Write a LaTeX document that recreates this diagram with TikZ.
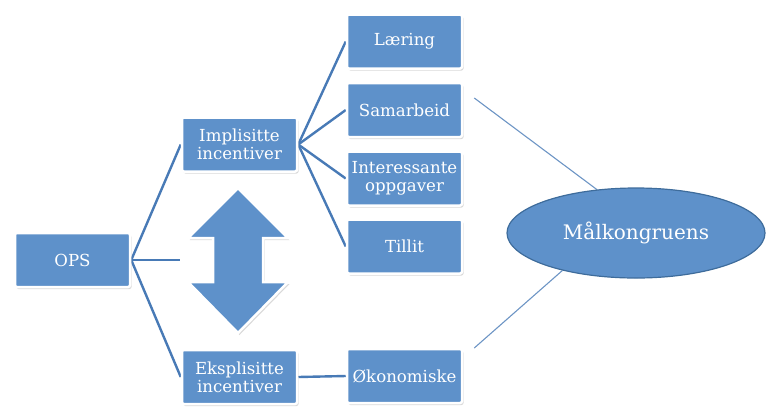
\documentclass[tikz,border=0pt]{standalone}
\usepackage{fontspec}
\setmainfont{DejaVu Serif}
\usetikzlibrary{shadows,shapes.geometric}
\definecolor{boxblue}{RGB}{94,145,202}
\definecolor{edgeblue}{RGB}{72,122,182}
\definecolor{rimblue}{RGB}{62,108,155}
\pgfdeclarelayer{background}
\pgfsetlayers{background,main}

\begin{document}
\begin{tikzpicture}[x=1pt,y=-1pt,
  card/.style={rectangle, rounded corners=2pt, fill=boxblue, draw=white,
    line width=2.5pt, minimum width=115pt, minimum height=54pt, text=white,
    font=\fontsize{16.6}{18}\selectfont, align=center, inner sep=0pt,
    drop shadow={opacity=0.3, shadow xshift=1.5pt, shadow yshift=-2pt}},
  link/.style={edgeblue, line width=2.4pt},
  thinlink/.style={edgeblue!80, line width=1.1pt}]
\useasboundingbox (0,0) rectangle (768,408);

% boxes
\node[card] (ops)  at (72.5,260)   {OPS};
\node[card] (impl) at (239.5,144.5) {Implisitte\\incentiver};
\node[card] (eks)  at (239.5,377)  {Eksplisitte\\incentiver};
\node[card] (laer) at (404.5,41.5) {Læring};
\node[card] (sam)  at (404.5,110)  {Samarbeid};
\node[card] (int)  at (404.5,178.5) {Interessante\\oppgaver};
\node[card] (til)  at (404.5,246.5) {Tillit};
\node[card] (oko)  at (404.5,376)  {Økonomiske};

% goal ellipse
\node[ellipse, fill=boxblue, draw=rimblue, line width=1.2pt,
  minimum width=258pt, minimum height=90pt, text=white,
  font=\fontsize{20}{23}\selectfont] (goal) at (636,233) {Målkongruens};

% two-headed arrow between the incentive types
\draw[fill=boxblue, draw=white, line width=2.5pt, line join=miter,
  drop shadow={opacity=0.3, shadow xshift=1.5pt, shadow yshift=-2pt}]
  (238,188) -- (288,238) -- (263,238) -- (263,282) -- (288,282)
  -- (238,333) -- (188,282) -- (213,282) -- (213,238) -- (188,238) -- cycle;

\coordinate (notch) at (180,260);

% connectors
\begin{pgfonlayer}{background}
  \draw[link] (ops.east) -- (impl.west);
  \draw[link] (ops.east) -- (eks.west);
  \draw[link] (ops.east) -- (notch);
  \draw[link] (impl.east) -- (laer.west);
  \draw[link] (impl.east) -- (sam.west);
  \draw[link] (impl.east) -- (int.west);
  \draw[link] (impl.east) -- (til.west);
  \draw[link] (eks.east) -- (oko.west);
  \draw[thinlink] ([shift={(11,-12)}]sam.east) -- (goal.132);
  \draw[thinlink] ([shift={(11,-28)}]oko.east) -- (goal.207);
\end{pgfonlayer}
\end{tikzpicture}
\end{document}
